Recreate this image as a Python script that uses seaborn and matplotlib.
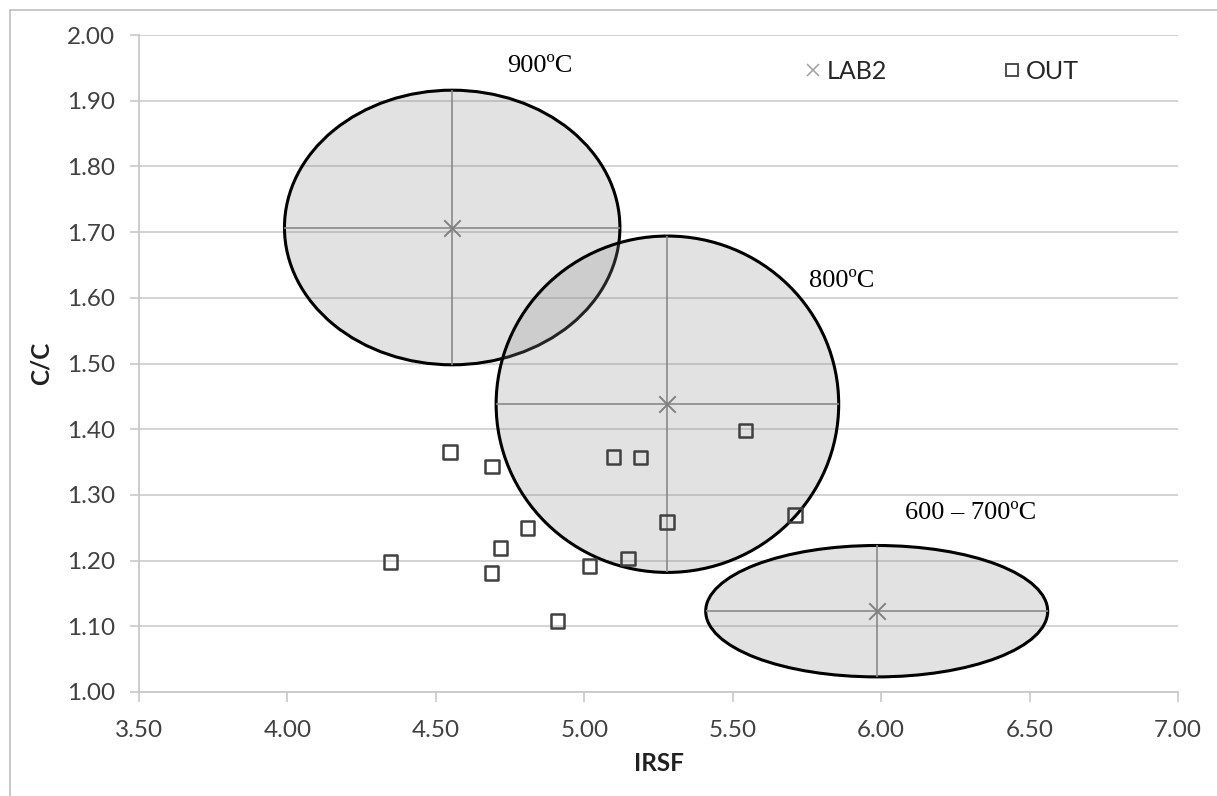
import numpy as np
import pandas as pd
import matplotlib
matplotlib.use("Agg")
import matplotlib.pyplot as plt
from matplotlib.patches import Ellipse
from matplotlib.lines import Line2D
import seaborn as sns

# ---- data ----
lab2_irsf = [4.555, 5.280, 5.985]
lab2_cc = [1.707, 1.438, 1.123]
lab2_irsf_err = [0.565, 0.577, 0.576]
lab2_cc_err = [0.209, 0.256, 0.100]
zone_labels = ["900ºC", "800ºC", "600 – 700ºC"]
zone_label_x = [4.85, 5.868, 6.08]
zone_label_y = [1.953, 1.625, 1.272]

out_irsf = [4.347, 4.547, 4.689, 4.687, 4.718, 4.808, 4.910, 5.017,
            5.098, 5.148, 5.190, 5.278, 5.543, 5.709]
out_cc = [1.198, 1.365, 1.343, 1.181, 1.219, 1.250, 1.108, 1.192,
          1.358, 1.203, 1.357, 1.259, 1.398, 1.269]

x_ticks = [3.5, 4.0, 4.5, 5.0, 5.5, 6.0, 6.5, 7.0]
y_ticks = [1.0, 1.1, 1.2, 1.3, 1.4, 1.5, 1.6, 1.7, 1.8, 1.9, 2.0]

lab2 = pd.DataFrame({"IRSF": lab2_irsf, "C/C": lab2_cc})
out = pd.DataFrame({"IRSF": out_irsf, "C/C": out_cc})

sns.set_style("white")
plt.rcParams["font.family"] = ["Lato", "DejaVu Sans"]

fig = plt.figure(figsize=(12.17, 7.96), dpi=100)
ax = fig.add_axes([139 / 1217, 1 - 692 / 796, (1178 - 139) / 1217, (692 - 35) / 796])

# figure border (top and left)
fig.add_artist(Line2D([10 / 1217, 10 / 1217], [0, 1 - 10 / 796], transform=fig.transFigure,
                      color="#bfbfbf", lw=1.2))
fig.add_artist(Line2D([10 / 1217, 1], [1 - 10 / 796, 1 - 10 / 796], transform=fig.transFigure,
                      color="#bfbfbf", lw=1.2))

ax.set_xlim(3.5, 7.0)
ax.set_ylim(1.0, 2.0)
ax.set_xticks(x_ticks)
ax.set_yticks(y_ticks)
ax.set_xticklabels([f"{v:.2f}" for v in x_ticks])
ax.set_yticklabels([f"{v:.2f}" for v in y_ticks])

ax.yaxis.grid(True, color="#d0d0d0", lw=1.3, zorder=0)
ax.xaxis.grid(False)
ax.set_axisbelow(True)
for s in ["top", "right"]:
    ax.spines[s].set_visible(False)
for s in ["left", "bottom"]:
    ax.spines[s].set_color("#c8c8c8")
    ax.spines[s].set_linewidth(1.3)

ax.tick_params(axis="x", direction="out", length=7, width=1.2, color="#c8c8c8",
               labelsize=17.5, labelcolor="#404040", pad=13, bottom=True)
ax.tick_params(axis="y", direction="out", length=6.5, width=1.2, color="#c8c8c8",
               labelsize=17.5, labelcolor="#404040", pad=11, left=True)

# ellipses
for cx, cy, ex, ey in zip(lab2_irsf, lab2_cc, lab2_irsf_err, lab2_cc_err):
    ax.add_patch(Ellipse((cx, cy), 2 * ex, 2 * ey, facecolor=(0.56, 0.56, 0.56, 0.25),
                         edgecolor="black", lw=2.2, zorder=2))

ax.errorbar(lab2_irsf, lab2_cc, xerr=lab2_irsf_err, yerr=lab2_cc_err, fmt="none",
            ecolor="#8a8a8a", elinewidth=1.2, capsize=0, zorder=3)

sns.scatterplot(data=out, x="IRSF", y="C/C", ax=ax, marker="s", s=95,
                facecolor="none", edgecolor="#404040", linewidth=1.8, zorder=4,
                label="OUT")
sns.scatterplot(data=lab2, x="IRSF", y="C/C", ax=ax, marker="x", s=140,
                color="#808080", linewidth=1.4, zorder=5, label="LAB2")

for t, tx, ty in zip(zone_labels, zone_label_x, zone_label_y):
    ax.text(tx, ty, t, family=["Liberation Serif", "DejaVu Serif"], fontsize=19,
            ha="center" if t != zone_labels[2] else "left", va="center", color="black")

ax.set_xlabel("IRSF", fontsize=17.5, fontweight="bold", color="#202020")
ax.set_ylabel("C/C", fontsize=17.5, fontweight="bold", color="#202020")
ax.xaxis.set_label_coords(0.5, -0.092)
ax.yaxis.set_label_coords(-0.083, 0.5)

h_out = Line2D([], [], marker="s", ls="none", markersize=8, markerfacecolor="none",
               markeredgecolor="#404040", markeredgewidth=1.3)
h_lab = Line2D([], [], marker="x", ls="none", markersize=9, color="#a0a0a0",
               markeredgewidth=1.1)
ax.legend([h_lab, h_out], ["LAB2", "OUT"], loc="center", bbox_to_anchor=(0.772, 0.945),
          ncol=2, frameon=False, fontsize=18, handlelength=0.8, handletextpad=0.15,
          columnspacing=4.6)

fig.savefig("out.png", dpi=100)
